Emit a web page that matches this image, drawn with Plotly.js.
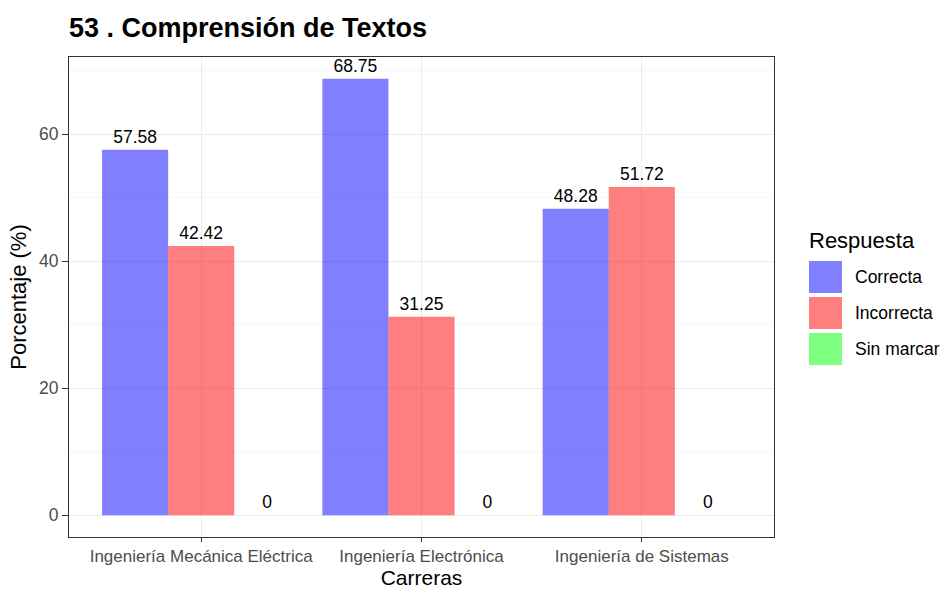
<!DOCTYPE html>
<html>
<head>
<meta charset="utf-8">
<script src="https://cdn.plot.ly/plotly-3.0.1.min.js"></script>
<style>html,body{margin:0;padding:0;background:#fff;}#chart{width:943px;height:590px;}</style>
</head>
<body>
<div id="chart"></div>
<script>
const categories = ["Ingeniería Mecánica Eléctrica", "Ingeniería Electrónica", "Ingeniería de Sistemas"];
const seriesNames = ["Correcta", "Incorrecta", "Sin marcar"];
const correcta = [57.58, 68.75, 48.28];
const incorrecta = [42.42, 31.25, 51.72];
const sinMarcar = [0, 0, 0];
const seriesColors = ["rgba(0,0,255,0.5)", "rgba(255,0,0,0.5)", "rgba(0,255,0,0.5)"];
const yTicks = [0, 20, 40, 60];

const FONT = "Liberation Sans, Arial, sans-serif";
const seriesValues = [correcta, incorrecta, sinMarcar];

const traces = seriesValues.map((vals, i) => ({
  type: "bar",
  name: seriesNames[i],
  x: categories,
  y: vals,
  marker: {color: seriesColors[i], line: {width: 0}},
  text: vals.map(v => String(v)),
  textposition: "outside",
  textfont: {family: FONT, size: 17.5, color: "#000"},
  cliponaxis: false,
  showlegend: false,
  hoverinfo: "x+y+name"
}));

// manual ggplot-style legend
const W = 943, H = 590;
const PL = 69, PR = 774, PT = 57, PB = 537;
const toX = px => (px - PL) / (PR - PL);
const toY = py => 1 - (py - PT) / (PB - PT);
const shapes = [];
const annotations = [];
const keyTop0 = 261, keyH = 32, keyGap = 4, keyX0 = 809, keyX1 = 842;
annotations.push({
  xref: "paper", yref: "paper", x: toX(keyX0 - 2), y: toY(240),
  xanchor: "left", yanchor: "middle", showarrow: false,
  text: "Respuesta", font: {family: FONT, size: 22, color: "#000"}
});
seriesNames.forEach((n, i) => {
  const top = keyTop0 + i * (keyH + keyGap);
  shapes.push({
    type: "rect", xref: "paper", yref: "paper",
    x0: toX(keyX0), x1: toX(keyX1), y0: toY(top + keyH), y1: toY(top),
    fillcolor: seriesColors[i], line: {width: 0}
  });
  annotations.push({
    xref: "paper", yref: "paper", x: toX(853), y: toY(top + keyH / 2),
    xanchor: "left", yanchor: "middle", showarrow: false,
    text: n, font: {family: FONT, size: 17.5, color: "#000"}
  });
});

const layout = {
  width: W, height: H,
  margin: {l: PL, r: W - PR, t: PT, b: H - PB},
  paper_bgcolor: "#fff", plot_bgcolor: "#fff",
  barmode: "group", bargap: 0.1, bargroupgap: 0,
  font: {family: FONT},
  title: {
    text: "<b>53 . Comprensión de Textos</b>",
    font: {family: FONT, size: 27, color: "#000"},
    xref: "paper", x: 0, xanchor: "left",
    yref: "container", y: 1 - 28 / H, yanchor: "middle"
  },
  xaxis: {
    type: "category",
    range: [-0.6, 2.6],
    showgrid: true, gridcolor: "#ebebeb", gridwidth: 1,
    showline: true, mirror: true, linecolor: "#333333", linewidth: 1,
    ticks: "outside", ticklen: 4, tickcolor: "#333333",
    tickfont: {family: FONT, size: 17, color: "#4d4d4d"},
    title: {text: "Carreras", font: {family: FONT, size: 21, color: "#000"}, standoff: 2},
    zeroline: false, fixedrange: true
  },
  yaxis: {
    range: [-3.44, 72.19],
    tickvals: yTicks, ticktext: yTicks.map(String),
    showgrid: true, gridcolor: "#ebebeb", gridwidth: 1,
    minor: {tickvals: [10, 30, 50, 70], showgrid: true, gridcolor: "#f2f2f2", gridwidth: 0.6, ticks: ""},
    showline: true, mirror: true, linecolor: "#333333", linewidth: 1,
    ticks: "outside", ticklen: 6, tickcolor: "#333333",
    tickfont: {family: FONT, size: 17.5, color: "#4d4d4d"},
    title: {text: "Porcentaje (%)", font: {family: FONT, size: 22, color: "#000"}, standoff: 6},
    zeroline: false, fixedrange: true
  },
  shapes: shapes,
  annotations: annotations,
  showlegend: false
};

Plotly.newPlot("chart", traces, layout, {displayModeBar: false, staticPlot: true});
</script>
</body>
</html>
